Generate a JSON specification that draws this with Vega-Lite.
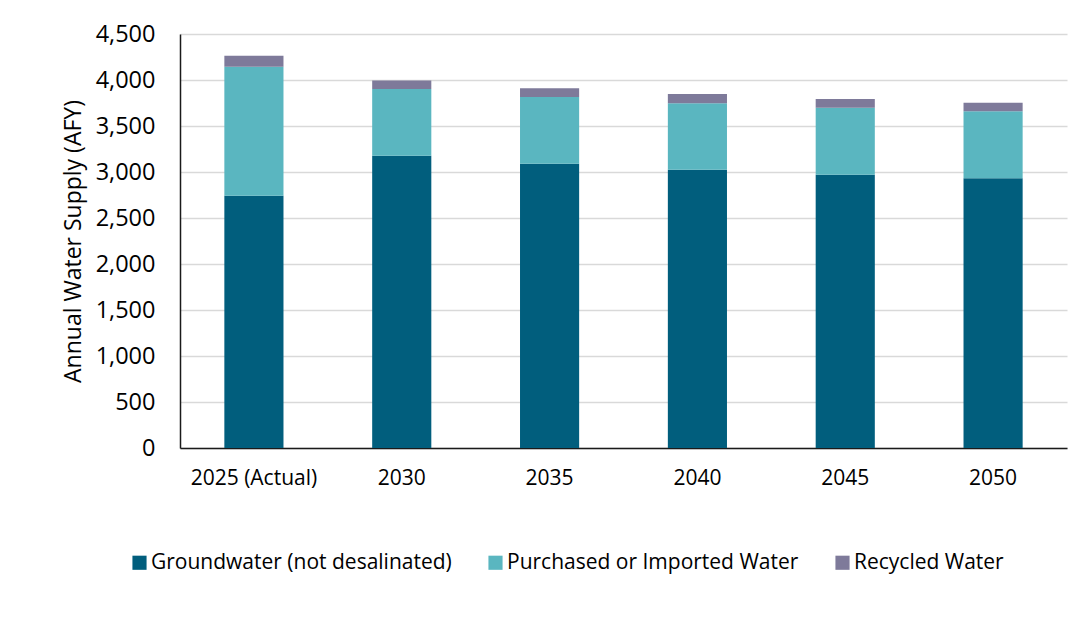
{
  "$schema": "https://vega.github.io/schema/vega-lite/v6.json",
  "autosize": "none",
  "width": 887,
  "height": 414,
  "padding": {"left": 180, "top": 34, "right": 19, "bottom": 169},
  "background": "white",
  "data": {
    "values": [
      {"year": "2025 (Actual)", "source": "Groundwater (not desalinated)", "ord": 1, "afy": 2742},
      {"year": "2025 (Actual)", "source": "Purchased or Imported Water", "ord": 2, "afy": 1403},
      {"year": "2025 (Actual)", "source": "Recycled Water", "ord": 3, "afy": 119},
      {"year": "2030", "source": "Groundwater (not desalinated)", "ord": 1, "afy": 3177},
      {"year": "2030", "source": "Purchased or Imported Water", "ord": 2, "afy": 725},
      {"year": "2030", "source": "Recycled Water", "ord": 3, "afy": 92},
      {"year": "2035", "source": "Groundwater (not desalinated)", "ord": 1, "afy": 3090},
      {"year": "2035", "source": "Purchased or Imported Water", "ord": 2, "afy": 725},
      {"year": "2035", "source": "Recycled Water", "ord": 3, "afy": 95},
      {"year": "2040", "source": "Groundwater (not desalinated)", "ord": 1, "afy": 3025},
      {"year": "2040", "source": "Purchased or Imported Water", "ord": 2, "afy": 722},
      {"year": "2040", "source": "Recycled Water", "ord": 3, "afy": 100},
      {"year": "2045", "source": "Groundwater (not desalinated)", "ord": 1, "afy": 2971},
      {"year": "2045", "source": "Purchased or Imported Water", "ord": 2, "afy": 728},
      {"year": "2045", "source": "Recycled Water", "ord": 3, "afy": 94},
      {"year": "2050", "source": "Groundwater (not desalinated)", "ord": 1, "afy": 2931},
      {"year": "2050", "source": "Purchased or Imported Water", "ord": 2, "afy": 729},
      {"year": "2050", "source": "Recycled Water", "ord": 3, "afy": 93}
    ]
  },
  "mark": {"type": "bar", "stroke": null},
  "encoding": {
    "x": {
      "field": "year",
      "type": "nominal",
      "sort": null,
      "scale": {"paddingInner": 0.6, "paddingOuter": 0.3},
      "axis": {
        "title": null,
        "labelAngle": 0,
        "labelFont": "Open Sans",
        "labelFontSize": 21,
        "labelColor": "#000000",
        "labelPadding": 19,
        "ticks": false,
        "domainColor": "#1a1a1a",
        "domainWidth": 1.5,
        "grid": false
      }
    },
    "y": {
      "field": "afy",
      "type": "quantitative",
      "stack": "zero",
      "scale": {"domain": [0, 4500], "nice": false},
      "axis": {
        "title": "Annual Water Supply (AFY)",
        "titleFont": "Open Sans",
        "titleFontSize": 23,
        "titleFontWeight": "normal",
        "titleColor": "#000000",
        "titlePadding": 10,
        "values": [0, 500, 1000, 1500, 2000, 2500, 3000, 3500, 4000, 4500],
        "format": ",d",
        "labelFont": "Open Sans",
        "labelFontSize": 23.5,
        "labelColor": "#000000",
        "labelPadding": 25,
        "ticks": false,
        "domainColor": "#1a1a1a",
        "domainWidth": 1.5,
        "grid": true,
        "gridColor": "#d9d9d9",
        "gridWidth": 1.5
      }
    },
    "color": {
      "field": "source",
      "type": "nominal",
      "scale": {
        "domain": ["Groundwater (not desalinated)", "Purchased or Imported Water", "Recycled Water"],
        "range": ["#015e7d", "#5ab6c0", "#7e7a9a"]
      },
      "legend": {
        "title": null,
        "orient": "none",
        "legendX": -51,
        "legendY": 518,
        "direction": "horizontal",
        "columns": 3,
        "columnPadding": 33,
        "symbolType": "square",
        "symbolSize": 200,
        "symbolStrokeWidth": 0,
        "labelFont": "Open Sans",
        "labelFontSize": 21,
        "labelColor": "#000000",
        "labelOffset": 1,
        "labelLimit": 400
      }
    },
    "order": {"field": "ord", "type": "quantitative", "sort": "ascending"}
  },
  "config": {
    "view": {"stroke": null}
  }
}
